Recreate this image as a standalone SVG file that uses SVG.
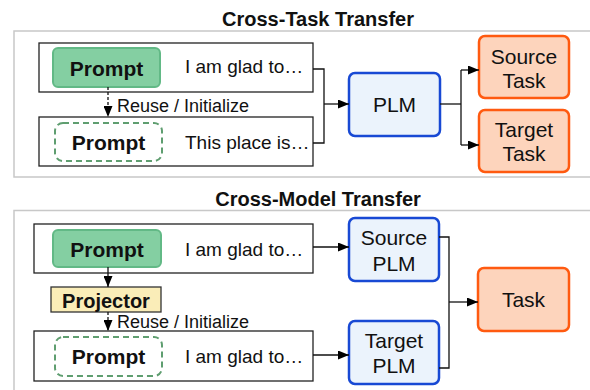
<svg xmlns="http://www.w3.org/2000/svg" width="590" height="390" viewBox="0 0 590 390">
<defs>
<marker id="ah" viewBox="0 0 10 10" refX="10" refY="5" markerWidth="11" markerHeight="9" markerUnits="userSpaceOnUse" orient="auto" preserveAspectRatio="none">
<path d="M0,0 L10,5 L0,10 z" fill="#000"/>
</marker>
<style>
text{font-family:"Liberation Sans",Arial,sans-serif;fill:#111}
.title{font-size:20px;font-weight:bold;text-anchor:middle}
.frame{fill:none;stroke:#c8c8c8;stroke-width:1.5}
.cont{fill:#fff;stroke:#222;stroke-width:1.3}
.pg{fill:#84cfa2;stroke:#62b986;stroke-width:2}
.pd{fill:#fff;stroke:#5f9e70;stroke-width:2;stroke-dasharray:6 4}
.pt{font-size:21px;font-weight:bold;text-anchor:middle}
.st{font-size:19px}
.lb{font-size:18px}
.plm{fill:#ebf3fc;stroke:#1849d4;stroke-width:2.5}
.task{fill:#fdd4bc;stroke:#ff5a10;stroke-width:2.5}
.bt{font-size:21px;text-anchor:middle}
.proj{fill:#faedb8;stroke:#333;stroke-width:1.3}
.ln{fill:none;stroke:#111;stroke-width:1.3}
.dl{fill:none;stroke:#111;stroke-width:1.3;stroke-dasharray:3 2}
</style>
</defs>

<text class="title" x="318" y="26">Cross-Task Transfer</text>
<path class="frame" d="M592,31 H14 V177 H592"/>
<text class="title" x="318" y="206">Cross-Model Transfer</text>
<path class="frame" d="M592,210.5 H14 V392"/>

<g id="t-src">
<rect class="cont" x="39" y="43" width="274" height="49"/>
<rect class="pg" x="53" y="48" width="107" height="39" rx="5"/>
<text class="pt" x="106.5" y="76">Prompt</text>
<text class="st" x="185" y="72.5">I am glad to…</text>
</g>
<g id="t-tgt">
<rect class="cont" x="39" y="117" width="274" height="49"/>
<rect class="pd" x="55" y="123" width="107" height="38" rx="8"/>
<text class="pt" x="108.5" y="149.5">Prompt</text>
<text class="st" x="185" y="148.5">This place is…</text>
</g>
<text class="lb" x="117" y="112">Reuse / Initialize</text>
<g id="t-plm">
<rect class="plm" x="349" y="73" width="91" height="63" rx="6"/>
<text class="bt" x="394.5" y="112">PLM</text>
</g>
<g id="t-stask">
<rect class="task" x="479" y="36" width="90" height="62" rx="6"/>
<text class="bt" x="524" y="63.5">Source</text>
<text class="bt" x="524" y="87.5">Task</text>
</g>
<g id="t-ttask">
<rect class="task" x="479" y="110" width="90" height="62" rx="6"/>
<text class="bt" x="524" y="137">Target</text>
<text class="bt" x="524" y="161">Task</text>
</g>

<g id="m-src">
<rect class="cont" x="34" y="224" width="279" height="49"/>
<rect class="pg" x="53" y="230" width="108" height="37" rx="5"/>
<text class="pt" x="107" y="256.5">Prompt</text>
<text class="st" x="185" y="256">I am glad to…</text>
</g>
<g id="m-proj">
<rect class="proj" x="51" y="287" width="110" height="25"/>
<text class="pt" x="106" y="307.5" style="font-size:20px">Projector</text>
</g>
<text class="lb" x="117" y="327.5">Reuse / Initialize</text>
<g id="m-tgt">
<rect class="cont" x="34" y="331" width="279" height="50"/>
<rect class="pd" x="55" y="337" width="107" height="39" rx="8"/>
<text class="pt" x="108.5" y="363.5">Prompt</text>
<text class="st" x="185" y="363">I am glad to…</text>
</g>
<g id="m-splm">
<rect class="plm" x="349" y="218" width="90" height="63" rx="6"/>
<text class="bt" x="394" y="245">Source</text>
<text class="bt" x="394" y="270.5">PLM</text>
</g>
<g id="m-tplm">
<rect class="plm" x="349" y="321" width="90" height="63" rx="6"/>
<text class="bt" x="394" y="348">Target</text>
<text class="bt" x="394" y="373">PLM</text>
</g>
<g id="m-task">
<rect class="task" x="478" y="268" width="91" height="63" rx="6"/>
<text class="bt" x="523.5" y="307">Task</text>
</g>

<g id="connectors">
<path class="dl" d="M108,87 V117" marker-end="url(#ah)"/>
<path class="ln" d="M313,69 H324 V143 H313"/>
<path class="ln" d="M324,104 H349" marker-end="url(#ah)"/>
<path class="ln" d="M440,104 H461"/>
<path class="ln" d="M461,70 V145"/>
<path class="ln" d="M461,70 H479" marker-end="url(#ah)"/>
<path class="ln" d="M461,145 H479" marker-end="url(#ah)"/>

<path class="ln" d="M108,267 V287" marker-end="url(#ah)"/>
<path class="dl" d="M108,312 V331" marker-end="url(#ah)"/>
<path class="ln" d="M313,247 H349" marker-end="url(#ah)"/>
<path class="ln" d="M313,355 H349" marker-end="url(#ah)"/>
<path class="ln" d="M439,237 H449 V368 H439"/>
<path class="ln" d="M449,302 H478" marker-end="url(#ah)"/>
</g>
</svg>
